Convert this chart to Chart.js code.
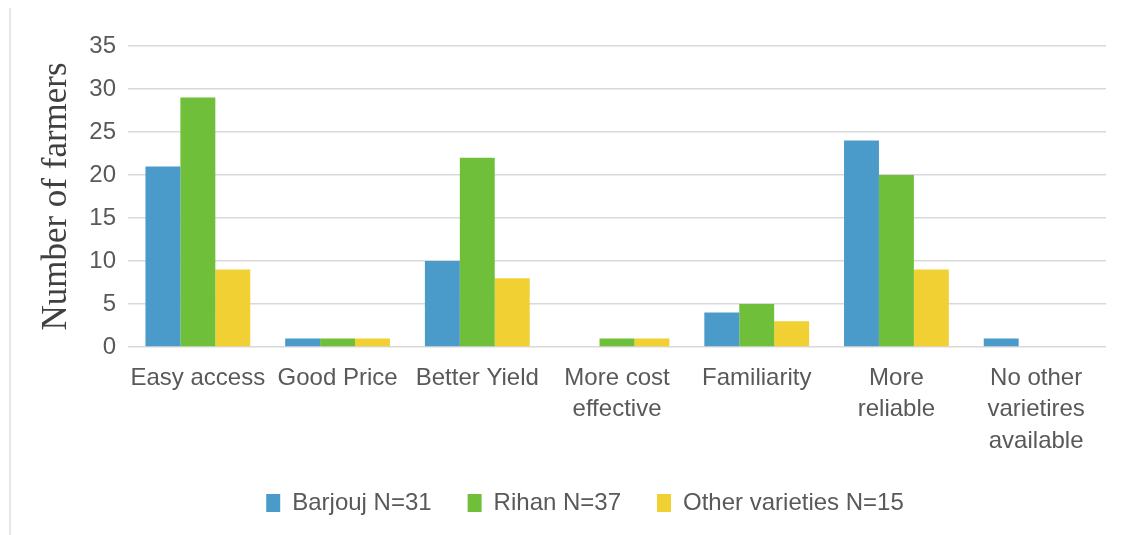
<!DOCTYPE html>
<html>
<head>
<meta charset="utf-8">
<script src="https://cdn.jsdelivr.net/npm/chart.js@4"></script>
<style>
    html, body { margin: 0; padding: 0; background: #fff; }
    #wrap { position: relative; width: 1123px; height: 535px; }
    #edge { position: absolute; left: 9px; top: 8px; width: 2px; height: 527px; background: #e6e6e6; }
</style>
</head>
<body>
<div id="wrap">
    <div id="edge"></div>
    <canvas id="chart" width="1123" height="535"></canvas>
</div>
<script>
const categories = [
    'Easy access',
    'Good Price',
    'Better Yield',
    ['More cost', 'effective'],
    'Familiarity',
    ['More', 'reliable'],
    ['No other', 'varietires', 'available']
];
const barjouj = [21, 1, 10, 0, 4, 24, 1];
const rihan = [29, 1, 22, 1, 5, 20, 0];
const otherVarieties = [9, 1, 8, 1, 3, 9, 0];
const seriesLabels = ['Barjouj N=31', 'Rihan N=37', 'Other varieties N=15'];
const yTicks = [0, 5, 10, 15, 20, 25, 30, 35];

const colors = ['#4b9bca', '#6fbf3b', '#f0d032'];
const labelFont = { family: '"Liberation Sans", Arial, sans-serif', size: 24 };

// legend in the original sits a bit right of the plot centre
const legendShift = {
    id: 'legendShift',
    afterLayout(chart) {
        chart.legend.left += 14;
        chart.legend.right += 14;
    }
};

const ctx = document.getElementById('chart').getContext('2d');
new Chart(ctx, {
    type: 'bar',
    data: {
        labels: categories,
        datasets: [barjouj, rihan, otherVarieties].map((d, i) => ({
            label: seriesLabels[i],
            data: d,
            backgroundColor: colors[i],
            borderWidth: 0,
            categoryPercentage: 0.75,
            barPercentage: 1
        }))
    },
    options: {
        responsive: false,
        animation: false,
        layout: { padding: { left: 36, right: 17, top: 46, bottom: 10 } },
        plugins: {
            tooltip: { enabled: false },
            legend: {
                position: 'bottom',
                labels: {
                    font: labelFont,
                    color: '#595959',
                    boxWidth: 14,
                    boxHeight: 18,
                    padding: 36
                }
            }
        },
        scales: {
            x: {
                grid: { display: false, drawTicks: false },
                border: { display: false },
                // padding only above the labels, none below
                afterFit: scale => { scale.height = 108; },
                ticks: {
                    font: { ...labelFont, lineHeight: 1.3 },
                    color: '#595959',
                    maxRotation: 0,
                    autoSkip: false,
                    padding: 16
                }
            },
            y: {
                min: 0,
                max: 35,
                afterBuildTicks: scale => {
                    scale.ticks = yTicks.map(v => ({ value: v }));
                },
                afterFit: scale => { scale.width = 92; },
                grid: { color: '#d9d9d9', lineWidth: 1.5, drawTicks: false },
                border: { display: false },
                ticks: {
                    font: labelFont,
                    color: '#595959',
                    padding: 12
                },
                title: {
                    display: true,
                    text: 'Number of farmers',
                    font: { family: '"Liberation Serif", "Times New Roman", serif', size: 35, lineHeight: 1.2 },
                    color: '#404040',
                    padding: 0
                }
            }
        }
    },
    plugins: [legendShift]
});
</script>
</body>
</html>
